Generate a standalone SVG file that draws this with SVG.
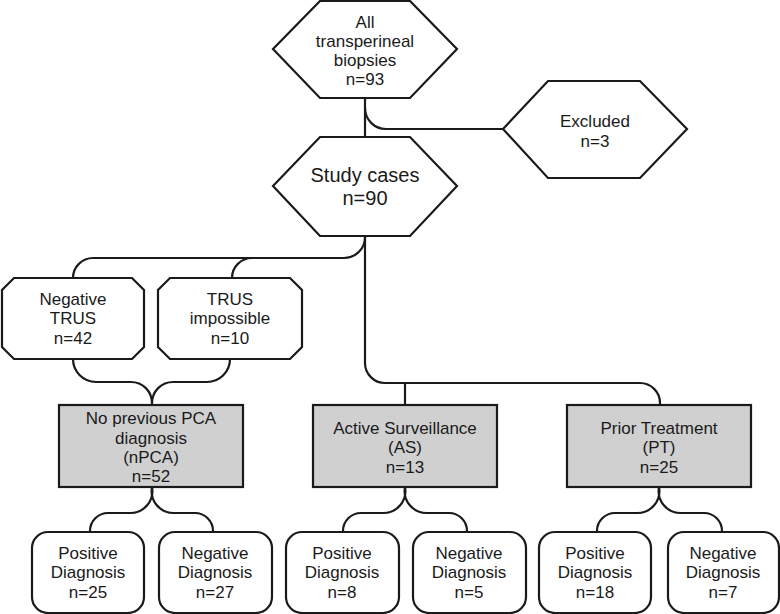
<svg xmlns="http://www.w3.org/2000/svg" width="780" height="614" viewBox="0 0 780 614">
<style>
.n{fill:#fff;stroke:#1a1a1a;stroke-width:2.2;stroke-linejoin:miter}
.g{fill:#d0d0d0;stroke:#1a1a1a;stroke-width:2.2}
.c{fill:none;stroke:#1a1a1a;stroke-width:2.2}
text{font-family:"Liberation Sans",Arial,sans-serif;font-size:17px;fill:#1a1a1a;text-anchor:middle}
.big{font-size:20px}
</style>
<rect width="780" height="614" fill="#fff"/>
<g id="connectors">
<path class="c" d="M365,98 V137"/>
<path class="c" d="M365,108 A21,21 0 0 0 386,129 H503"/>
<path class="c" d="M365,236 V363 A20,20 0 0 0 385,383 H640 A20,20 0 0 1 660,403 V405"/>
<path class="c" d="M365,236 A21,21 0 0 1 344,258 H93 A20,20 0 0 0 73,278"/>
<path class="c" d="M252,258 A20,20 0 0 0 232,278"/>
<path class="c" d="M405,383 V405"/>
<path class="c" d="M73,359 A23,23 0 0 0 96,382 H131 A21,21 0 0 1 152,403 V405"/>
<path class="c" d="M230,359 A23,23 0 0 1 207,382 H173 A21,21 0 0 0 152,403"/>
<path class="c" d="M152,487 A22,22 0 0 1 130,513 H108 A18,18 0 0 0 90,531 V532"/>
<path class="c" d="M152,487 A22,22 0 0 0 174,513 H195 A18,18 0 0 1 213,531 V532"/>
<path class="c" d="M405,487 A22,22 0 0 1 383,513 H361 A18,18 0 0 0 343,531 V532"/>
<path class="c" d="M405,487 A22,22 0 0 0 427,513 H449 A18,18 0 0 1 467,531 V532"/>
<path class="c" d="M659,487 A22,22 0 0 1 637,513 H615 A18,18 0 0 0 597,531 V532"/>
<path class="c" d="M659,487 A22,22 0 0 0 681,513 H704 A18,18 0 0 1 722,531 V532"/>
</g>
<g id="all">
<polygon class="n" points="273,49 320,1 410,1 457,49 410,98 320,98"/>
<text x="365" y="28">All</text>
<text x="365" y="47">transperineal</text>
<text x="365" y="66">biopsies</text>
<text x="365" y="85">n=93</text>
</g>
<g id="excluded">
<polygon class="n" points="503,129 548,81 640,81 687,129 640,178 548,178"/>
<text x="595" y="127">Excluded</text>
<text x="595" y="147">n=3</text>
</g>
<g id="study">
<polygon class="n" points="273,186 320,137 410,137 457,186 410,236 320,236"/>
<text class="big" x="365" y="182">Study cases</text>
<text class="big" x="365" y="205">n=90</text>
</g>
<g id="negtrus">
<polygon class="n" points="14,278 132,278 144,290 144,347 132,359 14,359 2,347 2,290"/>
<text x="73" y="305">Negative</text>
<text x="73" y="324">TRUS</text>
<text x="73" y="344">n=42</text>
</g>
<g id="trusimp">
<polygon class="n" points="170,278 290,278 302,290 302,347 290,359 170,359 158,347 158,290"/>
<text x="230" y="305">TRUS</text>
<text x="230" y="324">impossible</text>
<text x="230" y="344">n=10</text>
</g>
<g id="npca">
<rect class="g" x="59" y="405" width="184" height="82"/>
<text x="151" y="424">No previous PCA</text>
<text x="151" y="444">diagnosis</text>
<text x="151" y="463">(nPCA)</text>
<text x="151" y="482">n=52</text>
</g>
<g id="as">
<rect class="g" x="313" y="405" width="184" height="82"/>
<text x="405" y="434">Active Surveillance</text>
<text x="405" y="453">(AS)</text>
<text x="405" y="473">n=13</text>
</g>
<g id="pt">
<rect class="g" x="567" y="405" width="184" height="82"/>
<text x="659" y="434">Prior Treatment</text>
<text x="659" y="453">(PT)</text>
<text x="659" y="473">n=25</text>
</g>
<g id="npca-pos">
<rect class="n" x="32" y="532" width="112" height="81" rx="16"/>
<text x="88" y="559">Positive</text>
<text x="88" y="578">Diagnosis</text>
<text x="88" y="598">n=25</text>
</g>
<g id="npca-neg">
<rect class="n" x="159" y="532" width="113" height="81" rx="16"/>
<text x="215" y="559">Negative</text>
<text x="215" y="578">Diagnosis</text>
<text x="215" y="598">n=27</text>
</g>
<g id="as-pos">
<rect class="n" x="286" y="532" width="113" height="81" rx="16"/>
<text x="342" y="559">Positive</text>
<text x="342" y="578">Diagnosis</text>
<text x="342" y="598">n=8</text>
</g>
<g id="as-neg">
<rect class="n" x="413" y="532" width="113" height="81" rx="16"/>
<text x="469" y="559">Negative</text>
<text x="469" y="578">Diagnosis</text>
<text x="469" y="598">n=5</text>
</g>
<g id="pt-pos">
<rect class="n" x="539" y="532" width="112" height="81" rx="16"/>
<text x="595" y="559">Positive</text>
<text x="595" y="578">Diagnosis</text>
<text x="595" y="598">n=18</text>
</g>
<g id="pt-neg">
<rect class="n" x="668" y="532" width="111" height="81" rx="16"/>
<text x="723" y="559">Negative</text>
<text x="723" y="578">Diagnosis</text>
<text x="723" y="598">n=7</text>
</g>
</svg>
